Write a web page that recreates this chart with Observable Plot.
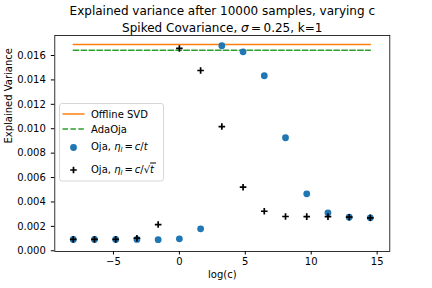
<!DOCTYPE html>
<html><head><meta charset="utf-8">
<script src="https://cdn.jsdelivr.net/npm/d3@7"></script>
<script src="https://cdn.jsdelivr.net/npm/@observablehq/plot@0.6"></script>
<style>
html,body{margin:0;padding:0;background:#fff;}
svg{font-family:"DejaVu Sans",sans-serif;}
</style></head>
<body><div id="chart"></div>
<script>
const logc = [-8.05, -6.44, -4.83, -3.22, -1.61, 0, 1.61, 3.22, 4.83, 6.44, 8.05, 9.66, 11.27, 12.88, 14.48];
const ojaT = [0.00093, 0.00093, 0.00093, 0.00093, 0.00091, 0.00098, 0.00180, 0.01680, 0.01630, 0.01434, 0.00926, 0.00467, 0.00311, 0.00275, 0.00270];
const ojaSqrt = [0.00093, 0.00093, 0.00093, 0.00103, 0.00215, 0.01658, 0.01477, 0.01018, 0.00521, 0.00324, 0.00281, 0.00280, 0.00280, 0.00275, 0.00270];
const offlineSVD = logc.map(() => 0.0169);
const adaOja = logc.map(() => 0.01644);
const yTicks = [0, 0.002, 0.004, 0.006, 0.008, 0.010, 0.012, 0.014, 0.016];
const xTicks = [-5, 0, 5, 10, 15];
const title1 = "Explained variance after 10000 samples, varying c";
const title2 = "Spiked Covariance, σ = 0.25, k=1";

const rows = logc.map((x, i) => ({x, t: ojaT[i], s: ojaSqrt[i], svd: offlineSVD[i], ada: adaOja[i]}));

const plusSymbol = {
  draw(ctx, size) {
    const s = Math.sqrt(size / Math.PI);
    ctx.moveTo(-s, 0); ctx.lineTo(s, 0);
    ctx.moveTo(0, -s); ctx.lineTo(0, s);
  }
};

const plot = Plot.plot({
  width: 432, height: 288,
  marginLeft: 54.3, marginRight: 42.7, marginTop: 35, marginBottom: 37,
  style: {fontFamily: "DejaVu Sans", fontSize: "10px", color: "black", background: "white"},
  x: {domain: [-9.45, 15.96]},
  y: {domain: [-0.00006, 0.01764]},
  marks: [
    Plot.axisX({ticks: xTicks, tickSize: 3.5, tickPadding: 3, label: null, fontSize: 10}),
    Plot.axisY({ticks: yTicks, tickFormat: ".3f", tickSize: 3.5, tickPadding: 5.5, label: null, fontSize: 10}),
    Plot.line(rows, {x: "x", y: "svd", stroke: "#ff7f0e", strokeWidth: 1.5}),
    Plot.line(rows, {x: "x", y: "ada", stroke: "#2ca02c", strokeWidth: 1.5, strokeDasharray: "5.5,2.4"}),
    Plot.dot(rows, {x: "x", y: "t", r: 3.4, fill: "#1f77b4", stroke: "none"}),
    Plot.dot(rows, {x: "x", y: "s", r: 3.3, symbol: plusSymbol, stroke: "black", fill: "none", strokeWidth: 1.7}),
    Plot.frame({stroke: "black", strokeWidth: 0.8}),
    Plot.text([title1], {frameAnchor: "top", dy: -29, fontSize: 12, fill: "black"}),
    Plot.text([title2], {frameAnchor: "top", dy: -12, fontSize: 12, fill: "black"}),
    Plot.text(["log(c)"], {frameAnchor: "bottom", dy: 26, fontSize: 10, fill: "black"}),
    Plot.text(["Explained Variance"], {frameAnchor: "left", dx: -46, rotate: -90, fontSize: 10, fill: "black"})
  ]
});
document.getElementById("chart").appendChild(plot);

const svg = d3.select(plot);
// Title line 2 with italic sigma
svg.selectAll("text").filter(function(){ return this.textContent === title2; }).each(function(){
  const t = d3.select(this);
  t.text(null);
  t.append("tspan").text("Spiked Covariance, ");
  t.append("tspan").attr("font-style", "italic").text("σ");
  t.append("tspan").text("\u2009=\u20090.25, k=1");
});

// Legend
const lg = svg.append("g").attr("font-family", "DejaVu Sans").attr("font-size", 10).attr("text-anchor", "start").attr("fill", "black");
lg.append("rect").attr("x", 59.5).attr("y", 103.5).attr("width", 104).attr("height", 77.5)
  .attr("rx", 2.5).attr("fill", "white").attr("fill-opacity", 0.8).attr("stroke", "#cccccc").attr("stroke-width", 0.8);
lg.append("line").attr("x1", 62.5).attr("x2", 84.5).attr("y1", 114).attr("y2", 114).attr("stroke", "#ff7f0e").attr("stroke-width", 1.5);
lg.append("line").attr("x1", 62.5).attr("x2", 84.5).attr("y1", 129).attr("y2", 129).attr("stroke", "#2ca02c").attr("stroke-width", 1.5).attr("stroke-dasharray", "5.5,2.4");
lg.append("circle").attr("cx", 73.5).attr("cy", 147.5).attr("r", 3.4).attr("fill", "#1f77b4");
lg.append("path").attr("d", "M70.2,170H76.8M73.5,166.7V173.3").attr("stroke", "black").attr("stroke-width", 1.7);
const tx = 91;
lg.append("text").attr("x", tx).attr("y", 114).attr("dy", "0.35em").text("Offline SVD");
lg.append("text").attr("x", tx).attr("y", 129).attr("dy", "0.35em").text("AdaOja");
function ojaLabel(y, sqrt) {
  const t = lg.append("text").attr("x", tx).attr("y", y).attr("dy", "0.35em");
  t.append("tspan").text("Oja, ");
  t.append("tspan").attr("font-style", "italic").text("η");
  t.append("tspan").attr("font-style", "italic").attr("font-size", 7).attr("dy", 2).text("l");
  t.append("tspan").attr("dy", -2).text("\u2009=\u2009");
  t.append("tspan").attr("font-style", "italic").text("c");
  t.append("tspan").text("/");
  if (sqrt) {
    t.append("tspan").text("√");
    t.append("tspan").attr("font-style", "italic").style("text-decoration", "overline").text("t\u2009");
  } else {
    t.append("tspan").attr("font-style", "italic").text("t");
  }
}
ojaLabel(146, false);
ojaLabel(169, true);
</script>
</body></html>
